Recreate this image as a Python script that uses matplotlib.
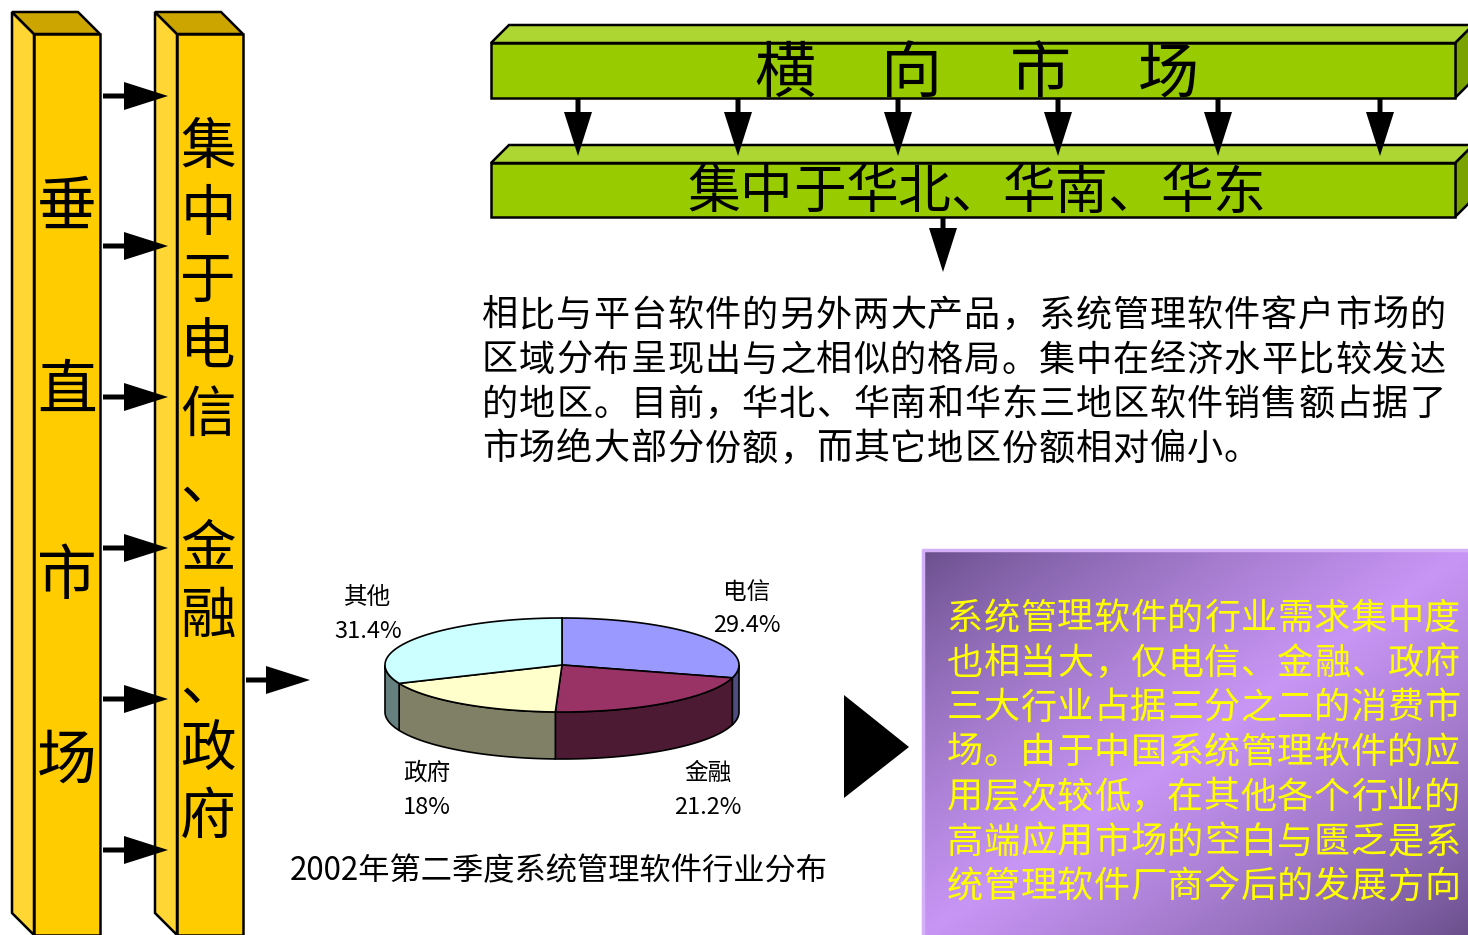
import numpy as np
import matplotlib
matplotlib.use("Agg")
import matplotlib.pyplot as plt
from matplotlib.patches import Polygon, FancyArrow

plt.rcParams["font.family"] = ["Noto Sans CJK SC", "DejaVu Sans"]
plt.rcParams["font.weight"] = "light"

# ---- 内容 ----
vertical_title = "垂直市场"
vertical_focus = "集中于电信、金融、政府"
horizontal_title = "横向市场"
horizontal_focus = "集中于华北、华南、华东"
region_lines = [
    "相比与平台软件的另外两大产品，系统管理软件客户市场的",
    "区域分布呈现出与之相似的格局。集中在经济水平比较发达",
    "的地区。目前，华北、华南和华东三地区软件销售额占据了",
    "市场绝大部分份额，而其它地区份额相对偏小。",
]
industry_lines = [
    "系统管理软件的行业需求集中度",
    "也相当大，仅电信、金融、政府",
    "三大行业占据三分之二的消费市",
    "场。由于中国系统管理软件的应",
    "用层次较低，在其他各个行业的",
    "高端应用市场的空白与匮乏是系",
    "统管理软件厂商今后的发展方向",
]
pie_labels = ["电信", "金融", "政府", "其他"]
pie_shares = [29.4, 21.2, 18.0, 31.4]
pie_caption = "2002年第二季度系统管理软件行业分布"

pie_top_colors = ["#9999FF", "#993366", "#FFFFCC", "#CCFFFF"]
pie_side_colors = ["#4D4D80", "#4D1A33", "#808066", "#668080"]

W, H = 1468, 935
fig = plt.figure(figsize=(W / 100, H / 100), dpi=100)
ax = fig.add_axes([0, 0, 1, 1])
ax.set_xlim(0, W)
ax.set_ylim(H, 0)
ax.axis("off")


def box3d(x0, y0, w, h, dx, dy, front, top, side, lw=1.8):
    """立体长方块：正面 + 顶面 + 侧面（dx<0 时侧面在左）"""
    top_pts = [(x0, y0), (x0 + dx, y0 + dy), (x0 + w + dx, y0 + dy), (x0 + w, y0)]
    xs = x0 if dx < 0 else x0 + w
    side_pts = [(xs, y0), (xs + dx, y0 + dy), (xs + dx, y0 + h + dy), (xs, y0 + h)]
    front_pts = [(x0, y0), (x0 + w, y0), (x0 + w, y0 + h), (x0, y0 + h)]
    for pts, c in [(side_pts, side), (top_pts, top), (front_pts, front)]:
        ax.add_patch(Polygon(pts, closed=True, fc=c, ec="black", lw=lw, joinstyle="miter"))


def arrow(x0, y0, x1, y1, shaft=5, head_w=28, head_l=44):
    ax.add_patch(FancyArrow(x0, y0, x1 - x0, y1 - y0, width=shaft, head_width=head_w,
                            head_length=head_l, length_includes_head=True,
                            fc="black", ec="black", lw=0, zorder=5))


def put_chars(text, x, y, step, size, color="black", vertical=False):
    """逐字排版，固定字距"""
    for i, ch in enumerate(text):
        cx = x if vertical else x + i * step
        cy = y + i * step if vertical else y
        ax.text(cx, cy, ch, fontsize=size, color=color, ha="center", va="center", zorder=6)


# ---- 左侧：垂直市场 ----
yellow_front, yellow_top, yellow_side = "#FFCC00", "#CDA500", "#FFD633"
box3d(34, 34, 66, 901, -22, -22, yellow_front, yellow_top, yellow_side)
box3d(177, 34, 66, 901, -22, -22, yellow_front, yellow_top, yellow_side)

for i, ch in enumerate(vertical_title):
    ax.text(67, 208 + i * 184.7, ch, fontsize=43, ha="center", va="center", zorder=6)
put_chars(vertical_focus, 208, 148, 67, 40, vertical=True)

for y in [96, 246, 397, 548, 699, 850]:
    arrow(103, y, 168, y)
arrow(246, 680, 310, 680)

# ---- 右上：横向市场 ----
green_front, green_top, green_side = "#99CC00", "#AED633", "#7AA300"
box3d(491, 43, 964, 55, 18, -18, green_front, green_top, green_side)
box3d(491, 163, 964, 54, 18, -18, green_front, green_top, green_side)

for ch, x in zip(horizontal_title, [785, 912, 1040, 1168]):
    ax.text(x, 75, ch, fontsize=44, ha="center", va="center", zorder=6)
put_chars(horizontal_focus, 714, 193, 52.5, 38)

for x in [578, 738, 898, 1058, 1218, 1380]:
    arrow(x, 99, x, 156)
arrow(943, 218, 943, 272)

for k, line in enumerate(region_lines):
    put_chars(line, 500, 316 + k * 44.5, 37.1, 26)

# ---- 立体饼图 ----
cx, cy, a, b, depth = 562, 665, 177, 47, 47
fracs = np.array(pie_shares) / sum(pie_shares)
bounds = np.concatenate([[0], np.cumsum(fracs)]) * 360


def ell(theta, dy=0):
    t = np.radians(theta)
    return cx + a * np.sin(t), cy - b * np.cos(t) + dy


for i in range(len(pie_shares)):
    lo, hi = max(bounds[i], 90), min(bounds[i + 1], 270)
    if hi > lo:
        th = np.linspace(lo, hi, 60)
        xt, yt = ell(th)
        xb, yb = ell(th[::-1], depth)
        pts = np.column_stack([np.concatenate([xt, xb]), np.concatenate([yt, yb])])
        ax.add_patch(Polygon(pts, closed=True, fc=pie_side_colors[i], ec="black", lw=1.2, zorder=3))

for i in range(len(pie_shares)):
    th = np.linspace(bounds[i], bounds[i + 1], 120)
    xt, yt = ell(th)
    pts = np.column_stack([np.concatenate([[cx], xt]), np.concatenate([[cy], yt])])
    ax.add_patch(Polygon(pts, closed=True, fc=pie_top_colors[i], ec="black", lw=1.2, zorder=4))

label_pos = {"电信": (747, 609), "金融": (708, 790), "政府": (427, 790), "其他": (368, 614)}
for name, v in zip(pie_labels, pie_shares):
    lx, ly = label_pos[name]
    ax.text(lx, ly - 17, name, fontsize=17, ha="center", va="center", zorder=6)
    ax.text(lx, ly + 17, f"{v:g}%", fontsize=17, ha="center", va="center", zorder=6)

ax.text(559, 871, pie_caption, fontsize=22.5, ha="center", va="center", zorder=6)

# ---- 右下：行业分析 ----
ax.add_patch(Polygon([(844, 695), (909, 747), (844, 798)], closed=True, fc="black", ec="none"))

bx0, by0, bx1, by1 = 923, 550, W, H
nx, ny = 400, 300
u = np.linspace(0, 1, nx)[None, :]
v = np.linspace(0, 1, ny)[:, None]
f = (1 - np.abs(u + v - 1)) ** 0.8
dark = np.array([104, 78, 138]) / 255
light = np.array([200, 150, 245]) / 255
grad = dark + (light - dark) * f[..., None]
ax.imshow(grad, extent=(bx0, bx1, by1, by0), origin="upper", aspect="auto",
          interpolation="bilinear", zorder=1)
ax.plot([bx0, bx0, bx1], [by1, by0, by0], color="#D4B0F8", lw=2.5, zorder=2)

for k, line in enumerate(industry_lines):
    put_chars(line, 965, 619 + k * 44.7, 36.7, 26, color="#FFFF00")

ax.set_xlim(0, W)
ax.set_ylim(H, 0)
fig.savefig("out.png", dpi=100)
